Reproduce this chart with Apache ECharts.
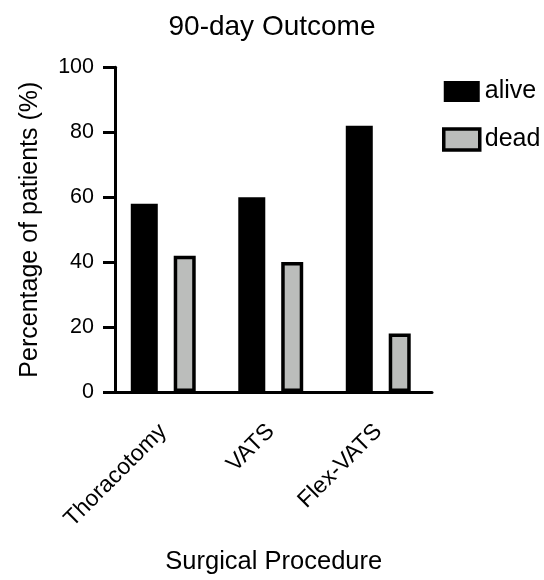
<!DOCTYPE html>
<html>
<head>
<meta charset="utf-8">
<script src="https://cdn.jsdelivr.net/npm/echarts@6/dist/echarts.min.js"></script>
<style>html,body{margin:0;padding:0;background:#fff}#c{width:544px;height:580px}</style>
</head>
<body>
<div id="c"></div>
<script>
var categories = ['Thoracotomy', 'VATS', 'Flex-VATS'];
var alive = [58, 60, 82];
var dead = [42, 40, 18];
var yTicks = { min: 0, max: 100, interval: 20 };
var FONT = "'Liberation Sans', Arial, Helvetica, sans-serif";

var chart = echarts.init(document.getElementById('c'));
chart.setOption({
  animation: false,
  backgroundColor: '#fff',
  title: {
    text: '90-day Outcome',
    left: 'center',
    top: 8,
    textStyle: { fontFamily: FONT, fontSize: 28, fontWeight: 'normal', color: '#000' }
  },
  legend: {
    orient: 'vertical',
    left: 437,
    top: 74,
    itemWidth: 36,
    itemHeight: 21,
    itemGap: 23,
    textStyle: { fontFamily: FONT, fontSize: 25, color: '#000' },
    data: [
      { name: 'alive', icon: 'rect', itemStyle: { color: '#000', borderWidth: 0 } },
      { name: 'dead', icon: 'rect', itemStyle: { color: '#bbbdbb', borderColor: '#000', borderWidth: 3.5 } }
    ]
  },
  grid: { left: 109.5, width: 322.5, top: 67.3, bottom: 182.7, containLabel: false },
  xAxis: {
    type: 'category',
    data: categories,
    name: 'Surgical Procedure',
    nameLocation: 'middle',
    nameGap: 157,
    nameTextStyle: { fontFamily: FONT, fontSize: 25.5, color: '#000', padding: [0, 0, 0, 6] },
    axisLine: { lineStyle: { color: '#000', width: 3 } },
    axisTick: { alignWithLabel: true, length: 13, lineStyle: { color: '#000', width: 3 } },
    axisLabel: { rotate: 45, margin: 36, fontFamily: FONT, fontSize: 23, color: '#000' }
  },
  yAxis: {
    type: 'value',
    min: yTicks.min,
    max: yTicks.max,
    interval: yTicks.interval,
    offset: -5.5,
    name: 'Percentage of patients (%)',
    nameLocation: 'middle',
    nameGap: 72,
    nameTextStyle: { fontFamily: FONT, fontSize: 25, color: '#000' },
    splitLine: { show: false },
    axisLine: { show: true, lineStyle: { color: '#000', width: 3 } },
    axisTick: { show: true, length: 12, lineStyle: { color: '#000', width: 3 } },
    axisLabel: { margin: 21, fontFamily: FONT, fontSize: 21.5, color: '#000' }
  },
  series: [
    {
      name: 'alive', type: 'bar', data: alive, barWidth: 27, barGap: '59%',
      itemStyle: { color: '#000' }
    },
    {
      name: 'dead', type: 'bar', data: dead, barWidth: 22,
      itemStyle: { color: '#bbbdbb', borderColor: '#000', borderWidth: 3.5 }
    }
  ]
});
</script>
</body>
</html>
